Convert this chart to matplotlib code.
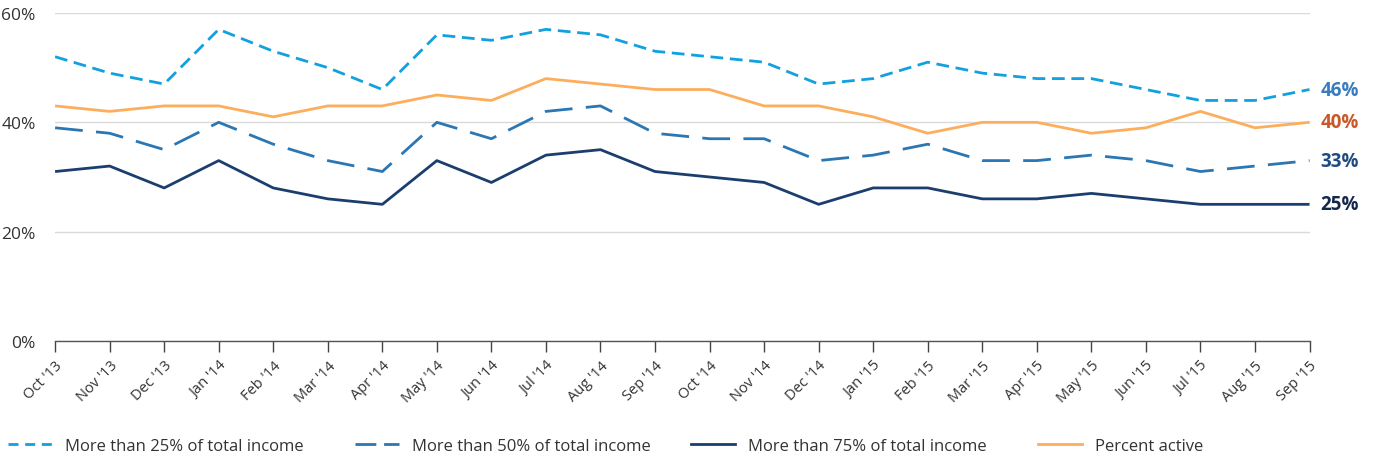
"""Share of account holders by income dependence, monthly, Oct 2013 - Sep 2015."""
import matplotlib
matplotlib.use("Agg")
import matplotlib.pyplot as plt
from matplotlib.lines import Line2D

months = [
    "Oct '13", "Nov '13", "Dec '13", "Jan '14", "Feb '14", "Mar '14",
    "Apr '14", "May '14", "Jun '14", "Jul '14", "Aug '14", "Sep '14",
    "Oct '14", "Nov '14", "Dec '14", "Jan '15", "Feb '15", "Mar '15",
    "Apr '15", "May '15", "Jun '15", "Jul '15", "Aug '15", "Sep '15",
]

over_25 = [52, 49, 47, 57, 53, 50, 46, 56, 55, 57, 56, 53,
           52, 51, 47, 48, 51, 49, 48, 48, 46, 44, 44, 46]
over_50 = [39, 38, 35, 40, 36, 33, 31, 40, 37, 42, 43, 38,
           37, 37, 33, 34, 36, 33, 33, 34, 33, 31, 32, 33]
over_75 = [31, 32, 28, 33, 28, 26, 25, 33, 29, 34, 35, 31,
           30, 29, 25, 28, 28, 26, 26, 27, 26, 25, 25, 25]
active = [43, 42, 43, 43, 41, 43, 43, 45, 44, 48, 47, 46,
          46, 43, 43, 41, 38, 40, 40, 38, 39, 42, 39, 40]

series_names = [
    "More than 25% of total income",
    "More than 50% of total income",
    "More than 75% of total income",
    "Percent active",
]

plt.rcParams["font.family"] = ["Open Sans", "DejaVu Sans"]

fig = plt.figure(figsize=(13.77, 4.6), dpi=100)
ax = fig.add_axes([0.04, 0.2565, 0.911, 0.7131])

x = list(range(len(months)))
colors = ["#12a0df", "#2b77b4", "#1b3e6f", "#fcae5d"]
line_dashes = [(4.6, 2.4), (10, 4.8), None, None]
legend_dashes = [(3.6, 2.4), (7.5, 2.8), None, None]

for vals, c, d in zip([over_25, over_50, over_75, active], colors, line_dashes):
    kw = {"dashes": d} if d else {}
    ax.plot(x, vals, color=c, lw=2.0, solid_capstyle="butt",
            dash_capstyle="butt", **kw)

# end-of-series value labels
end_colors = ["#3a7cbd", "#c9592a", "#1f4c80", "#13284b"]
for vals, c in zip([over_25, active, over_50, over_75], end_colors):
    ax.text(x[-1] + 0.2, vals[-1], f"{vals[-1]}%", color=c, fontsize=13.5,
            fontweight="bold", va="center", ha="left", clip_on=False)

ax.set_xlim(0, len(months) - 1)
ax.set_ylim(0, 60)
ax.set_yticks([0, 20, 40, 60])
ax.set_yticklabels(["0%", "20%", "40%", "60%"], fontsize=12.5, color="#333333")
ax.tick_params(axis="y", length=0, pad=14)
ax.grid(axis="y", color="#dadada", lw=1)
ax.set_axisbelow(True)

ax.set_xticks(x)
ax.set_xticklabels(months, rotation=45, ha="right", rotation_mode="anchor",
                   fontsize=10.5, color="#333333")
ax.tick_params(axis="x", length=8, width=1, color="#444444", pad=4)

for side in ["left", "right", "top"]:
    ax.spines[side].set_visible(False)
ax.spines["bottom"].set_color("#555555")
ax.spines["bottom"].set_linewidth(1)

# legend entries spread along the bottom
legend_x = [0.006, 0.258, 0.502, 0.754]
for name, c, d, lx in zip(series_names, colors, legend_dashes, legend_x):
    kw = {"dashes": d} if d else {}
    h = Line2D([], [], color=c, lw=2.0, dash_capstyle="butt", **kw)
    leg = fig.legend([h], [name], loc="center left", bbox_to_anchor=(lx, 0.028),
                     frameon=False, fontsize=12, handlelength=2.6,
                     handletextpad=0.8, borderaxespad=0, borderpad=0)
    for t in leg.get_texts():
        t.set_color("#333333")

fig.savefig("out.png", dpi=100)
